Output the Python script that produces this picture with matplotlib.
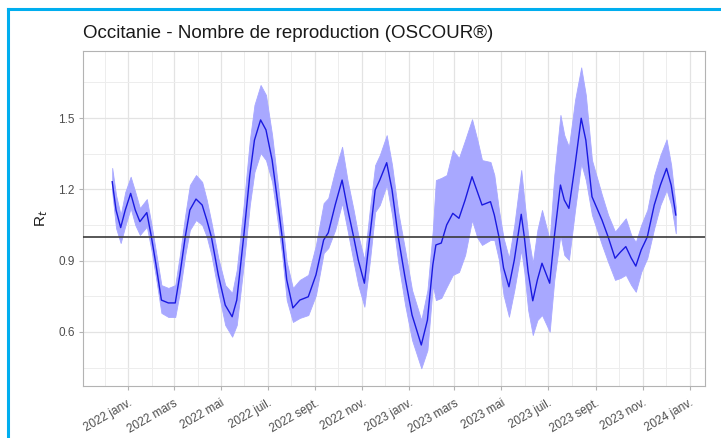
import numpy as np
import pandas as pd
import matplotlib
matplotlib.use("Agg")
import matplotlib.pyplot as plt
import matplotlib.dates as mdates
from matplotlib.lines import Line2D

plt.rcParams['font.family'] = ['Liberation Sans', 'DejaVu Sans']

# Rt estimates (date, mean, lower, upper)
dates = [
    "2021-12-11", "2021-12-16", "2021-12-22", "2021-12-28", "2022-01-04", "2022-01-10",
    "2022-01-16", "2022-01-25", "2022-01-31", "2022-02-06", "2022-02-13", "2022-02-22",
    "2022-03-03", "2022-03-09", "2022-03-16", "2022-03-22", "2022-03-30", "2022-04-07",
    "2022-04-13", "2022-04-19", "2022-04-28", "2022-05-07", "2022-05-16", "2022-05-22",
    "2022-05-31", "2022-06-08", "2022-06-14", "2022-06-22", "2022-06-29", "2022-07-07",
    "2022-07-13", "2022-07-20", "2022-07-26", "2022-08-03", "2022-08-12", "2022-08-23",
    "2022-09-02", "2022-09-12", "2022-09-18", "2022-09-27", "2022-10-06", "2022-10-13",
    "2022-10-21", "2022-10-27", "2022-11-04", "2022-11-11", "2022-11-18", "2022-11-24",
    "2022-12-03", "2022-12-10", "2022-12-18", "2022-12-27", "2023-01-05", "2023-01-17",
    "2023-01-25", "2023-02-01", "2023-02-05", "2023-02-12", "2023-02-19", "2023-02-27",
    "2023-03-07", "2023-03-15", "2023-03-24", "2023-03-31", "2023-04-06", "2023-04-17",
    "2023-04-22", "2023-04-28", "2023-05-04", "2023-05-11", "2023-05-18", "2023-05-27",
    "2023-05-31", "2023-06-05", "2023-06-11", "2023-06-17", "2023-06-23", "2023-07-03",
    "2023-07-09", "2023-07-17", "2023-07-22", "2023-07-28", "2023-08-05", "2023-08-13",
    "2023-08-19", "2023-08-27", "2023-09-09", "2023-09-17", "2023-09-26", "2023-10-03",
    "2023-10-10", "2023-10-17", "2023-10-23", "2023-10-30", "2023-11-07", "2023-11-16",
    "2023-11-24", "2023-12-02", "2023-12-08", "2023-12-14",
]
rt = [
    1.232, 1.113, 1.039, 1.113, 1.183, 1.113, 1.064, 1.102, 1.000, 0.882,
    0.734, 0.722, 0.722, 0.840, 1.000, 1.113, 1.159, 1.134, 1.071, 1.000,
    0.840, 0.713, 0.664, 0.734, 1.000, 1.260, 1.407, 1.492, 1.450, 1.323,
    1.176, 1.000, 0.819, 0.701, 0.734, 0.748, 0.840, 0.987, 1.017, 1.134,
    1.239, 1.121, 1.000, 0.903, 0.805, 1.000, 1.197, 1.239, 1.312, 1.197,
    1.000, 0.827, 0.671, 0.545, 0.650, 0.882, 0.966, 0.974, 1.050, 1.099,
    1.078, 1.155, 1.253, 1.189, 1.134, 1.148, 1.092, 1.000, 0.869, 0.790,
    0.903, 1.095, 1.000, 0.852, 0.731, 0.819, 0.889, 0.805, 1.000, 1.218,
    1.155, 1.120, 1.302, 1.499, 1.407, 1.169, 1.071, 1.000, 0.910, 0.936,
    0.959, 0.911, 0.877, 0.945, 1.000, 1.134, 1.218, 1.288, 1.218, 1.092,
]
rt_low = [
    1.189, 1.037, 0.974, 1.046, 1.121, 1.050, 1.008, 1.043, 0.945, 0.827,
    0.680, 0.663, 0.663, 0.768, 0.924, 1.029, 1.071, 1.050, 1.000, 0.924,
    0.768, 0.629, 0.580, 0.629, 0.882, 1.134, 1.273, 1.353, 1.323, 1.231,
    1.092, 0.924, 0.734, 0.642, 0.659, 0.671, 0.755, 0.932, 0.953, 1.029,
    1.142, 1.029, 0.894, 0.797, 0.706, 0.894, 1.105, 1.134, 1.218, 1.092,
    0.894, 0.713, 0.566, 0.447, 0.524, 0.797, 0.734, 0.743, 0.789, 0.840,
    0.852, 0.924, 1.071, 0.996, 0.966, 0.987, 0.987, 0.903, 0.755, 0.664,
    0.776, 0.945, 0.852, 0.692, 0.587, 0.650, 0.671, 0.601, 0.819, 1.008,
    0.924, 0.903, 1.113, 1.309, 1.239, 1.092, 0.966, 0.894, 0.819, 0.827,
    0.840, 0.797, 0.769, 0.852, 0.911, 1.037, 1.134, 1.197, 1.134, 1.015,
]
rt_up = [
    1.290, 1.176, 1.092, 1.189, 1.253, 1.189, 1.121, 1.159, 1.054, 0.936,
    0.797, 0.785, 0.797, 0.924, 1.092, 1.218, 1.260, 1.231, 1.155, 1.062,
    0.911, 0.797, 0.764, 0.861, 1.134, 1.407, 1.555, 1.639, 1.597, 1.428,
    1.260, 1.071, 0.894, 0.785, 0.819, 0.840, 0.966, 1.142, 1.163, 1.281,
    1.379, 1.239, 1.113, 1.008, 0.903, 1.113, 1.302, 1.344, 1.428, 1.302,
    1.105, 0.945, 0.776, 0.650, 0.776, 1.029, 1.239, 1.248, 1.260, 1.365,
    1.332, 1.407, 1.495, 1.407, 1.323, 1.315, 1.260, 1.113, 0.995, 0.911,
    1.050, 1.281, 1.155, 1.008, 0.890, 1.029, 1.113, 0.987, 1.260, 1.513,
    1.428, 1.379, 1.576, 1.713, 1.597, 1.323, 1.176, 1.092, 1.022, 1.050,
    1.078, 1.008, 0.978, 1.050, 1.113, 1.260, 1.344, 1.410, 1.302, 1.127,
]

tick_dates = ["2022-01-01", "2022-03-01", "2022-05-01", "2022-07-01", "2022-09-01",
              "2022-11-01", "2023-01-01", "2023-03-01", "2023-05-01", "2023-07-01",
              "2023-09-01", "2023-11-01", "2024-01-01"]
tick_labels = ["2022 janv.", "2022 mars", "2022 mai", "2022 juil.", "2022 sept.",
               "2022 nov.", "2023 janv.", "2023 mars", "2023 mai", "2023 juil.",
               "2023 sept.", "2023 nov.", "2024 janv."]
minor_dates = ["2021-12-01", "2022-02-01", "2022-04-01", "2022-06-01", "2022-08-01",
               "2022-10-01", "2022-12-01", "2023-02-01", "2023-04-01", "2023-06-01",
               "2023-08-01", "2023-10-01", "2023-12-01"]
y_ticks = [0.6, 0.9, 1.2, 1.5]
y_minor = [0.45, 0.75, 1.05, 1.35, 1.65]

df = pd.DataFrame({"date": pd.to_datetime(dates), "rt": rt, "low": rt_low, "up": rt_up})

fig = plt.figure(figsize=(7.21, 4.38), dpi=100)
ax = fig.add_axes([0.1151, 0.1187, 0.8627, 0.7649])

# grid (ggplot theme_light look)
ax.set_xticks(pd.to_datetime(tick_dates))
ax.set_xticks(pd.to_datetime(minor_dates), minor=True)
ax.set_yticks(y_ticks)
ax.set_yticks(y_minor, minor=True)
ax.grid(True, which='major', color='#E3E3E3', lw=0.9)
ax.grid(True, which='minor', color='#EDEDED', lw=0.7)
ax.set_axisbelow(True)

ax.fill_between(df["date"], df["low"], df["up"], color='#A8A8FF', lw=0.6,
                edgecolor='#A8A8FF', zorder=2)
ax.plot(df["date"], df["rt"], color='#1A1AE0', lw=1.0, zorder=3)
ax.axhline(1.0, color='#3A3A3A', lw=1.2, zorder=4)

ax.set_xlim(pd.Timestamp("2021-11-03"), pd.Timestamp("2024-01-21"))
ax.set_ylim(0.3725, 1.782)

ax.set_xticklabels(tick_labels, rotation=30, ha='right', rotation_mode='anchor',
                   fontsize=8.5, color='#4D4D4D')
ax.set_yticklabels([f"{v:.1f}" for v in y_ticks], fontsize=8.5, color='#4D4D4D')
ax.tick_params(which='major', length=3, color='#B3B3B3', width=0.8, pad=3)
ax.tick_params(which='minor', length=0)
ax.tick_params(axis='x', pad=5)

for s in ax.spines.values():
    s.set_color('#B3B3B3')
    s.set_linewidth(0.8)

ax.set_ylabel("R$_t$", fontsize=11, color='#1A1A1A', labelpad=6)
ax.set_title("Occitanie - Nombre de reproduction (OSCOUR®)", loc='left',
             fontsize=13.5, color='#1A1A1A', pad=9)

# cyan frame on the left and top edges of the image
fig.add_artist(Line2D([0.011, 0.011], [0.0, 0.979], transform=fig.transFigure,
                      color='#00AEEF', lw=2.2))
fig.add_artist(Line2D([0.011, 1.0], [0.979, 0.979], transform=fig.transFigure,
                      color='#00AEEF', lw=2.2))

fig.savefig("out.png", dpi=100)
